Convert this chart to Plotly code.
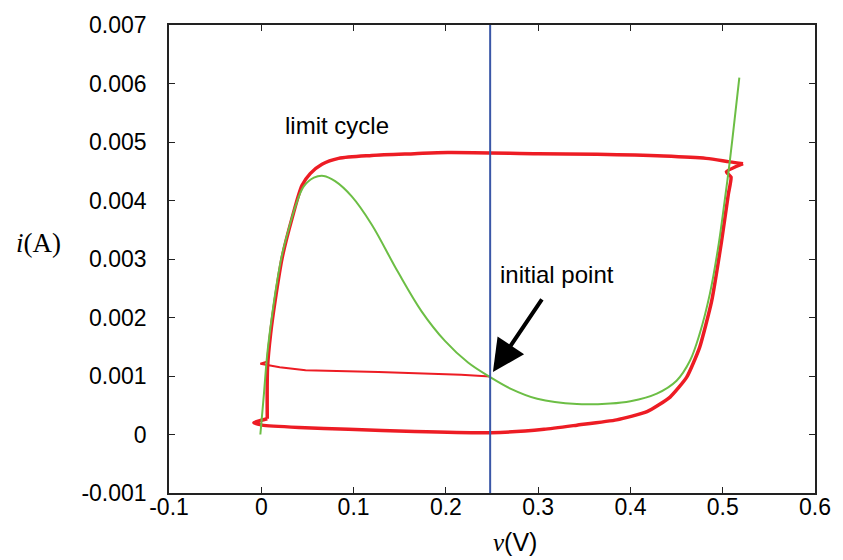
import plotly.graph_objects as go

# Green curve: i = f(v) characteristic
green_v = [-0.001, 0.0029, 0.0065, 0.0119, 0.0172, 0.0226, 0.030, 0.037, 0.046, 0.057, 0.0676,
           0.080, 0.098, 0.1196, 0.148, 0.1735, 0.199, 0.224, 0.247, 0.2705, 0.299, 0.342, 0.378,
           0.40, 0.4286, 0.450, 0.4645, 0.475, 0.486, 0.495, 0.502, 0.5076, 0.513, 0.518]
green_i = [0.0, 0.0007, 0.00138, 0.00206, 0.00262, 0.00308, 0.00353, 0.0039, 0.00424, 0.00439, 0.00442,
           0.00433, 0.00407, 0.00359, 0.00278, 0.00211, 0.0016, 0.00123, 0.00099, 0.00078, 0.00061, 0.00052, 0.00053,
           0.00057, 0.0007, 0.00092, 0.00126, 0.00172, 0.0024, 0.00319, 0.00398, 0.00466, 0.0054, 0.0061]

# Red trajectory: transient from the initial point
trans_v = [0.248, 0.2165, 0.127, 0.048, 0.02, 0.008, -0.001, 0.007]
trans_i = [0.00099, 0.00102, 0.00107, 0.0011, 0.00115, 0.00119, 0.00121, 0.00125]

# Red trajectory: limit cycle (left branch, top, right kink, right branch, bottom, bottom-left kink)
cycle_left_v = [0.0065, 0.0068, 0.0101, 0.0155, 0.0226, 0.0334, 0.0442, 0.053, 0.0658, 0.0837, 0.1196, 0.166,
                0.202, 0.30, 0.364, 0.436, 0.482, 0.5076, 0.522]
cycle_left_i = [0.00027, 0.00115, 0.00172, 0.00234, 0.00302, 0.0037, 0.00426, 0.00446, 0.00462, 0.00472, 0.00477, 0.0048,
                0.00482, 0.0048, 0.00479, 0.00476, 0.00472, 0.00466, 0.00463]
cycle_right_v = [0.522, 0.504, 0.509, 0.506, 0.4987, 0.488, 0.475, 0.461, 0.443, 0.418, 0.385, 0.342, 0.3065,
                 0.249, 0.1664, 0.0945, 0.0406, 0.001, -0.008, 0.0065]
cycle_right_i = [0.00463, 0.00449, 0.0044, 0.0041, 0.0033, 0.00228, 0.00149, 0.00098, 0.00064, 0.00039, 0.00025,
                 0.00016, 0.00009, 0.00003, 0.00005, 0.00009, 0.00012, 0.00016, 0.0002, 0.00027]

initial_v = 0.248
initial_i = 0.00099

x_ticks = [-0.1, 0, 0.1, 0.2, 0.3, 0.4, 0.5, 0.6]
x_labels = ["-0.1", "0", "0.1", "0.2", "0.3", "0.4", "0.5", "0.6"]
y_ticks = [-0.001, 0, 0.001, 0.002, 0.003, 0.004, 0.005, 0.006, 0.007]
y_labels = ["-0.001", "0", "0.001", "0.002", "0.003", "0.004", "0.005", "0.006", "0.007"]

RED = "rgb(237,28,36)"
GREEN = "rgb(108,190,69)"
BLUE = "rgb(58,87,167)"
SANS = "Liberation Sans, Arial, sans-serif"
SERIF = "Liberation Serif, Times New Roman, serif"

fig = go.Figure()
fig.add_vline(x=initial_v, line=dict(color=BLUE, width=2))
fig.add_trace(go.Scatter(x=trans_v, y=trans_i, mode="lines", line=dict(color=RED, width=2), showlegend=False))
fig.add_trace(go.Scatter(x=cycle_left_v, y=cycle_left_i, mode="lines",
                         line=dict(color=RED, width=3.5, shape="spline", smoothing=0.8), showlegend=False))
fig.add_trace(go.Scatter(x=cycle_right_v, y=cycle_right_i, mode="lines",
                         line=dict(color=RED, width=3.5, shape="spline", smoothing=0.5), showlegend=False))
fig.add_trace(go.Scatter(x=green_v, y=green_i, mode="lines",
                         line=dict(color=GREEN, width=2, shape="spline", smoothing=1.0), showlegend=False))

axis_common = dict(
    showline=True, linecolor="#222", linewidth=1.5, mirror="ticks",
    ticks="inside", ticklen=6, tickwidth=1, tickcolor="#222",
    showgrid=False, zeroline=False,
    tickfont=dict(family=SANS, size=23, color="black"),
)

fig.update_xaxes(range=[-0.1, 0.6], tickvals=x_ticks, ticktext=x_labels, ticklabelstandoff=-7, **axis_common)
fig.update_yaxes(range=[-0.001, 0.007], tickvals=y_ticks, ticktext=y_labels, ticklabelstandoff=16, **axis_common)

fig.add_annotation(x=0.0816, y=0.00529, text="limit cycle", showarrow=False,
                   font=dict(family=SANS, size=24, color="black"))
fig.add_annotation(x=0.3208, y=0.00274, text="initial point", showarrow=False,
                   font=dict(family=SANS, size=24, color="black"))
fig.add_annotation(x=initial_v + 0.003, y=initial_i + 0.00008, ax=50, ay=-74, text="",
                   showarrow=True, arrowhead=2, arrowsize=1.6, arrowwidth=4, arrowcolor="black", standoff=0)

fig.add_annotation(xref="paper", yref="paper", x=-0.2025, y=0.5335, xanchor="center", yanchor="middle",
                   text="<i>i</i>(A)", showarrow=False, font=dict(family=SERIF, size=27, color="black"))
fig.add_annotation(xref="paper", yref="paper", x=0.535, y=-0.1055, xanchor="center", yanchor="middle",
                   text="<i><span style='font-family:Liberation Serif'>v</span></i>(V)", showarrow=False,
                   font=dict(family=SANS, size=25, color="black"))

fig.update_layout(
    width=843, height=560,
    margin=dict(l=169, r=24, t=22, b=67),
    paper_bgcolor="white", plot_bgcolor="white",
)

fig.write_html("out.html")
